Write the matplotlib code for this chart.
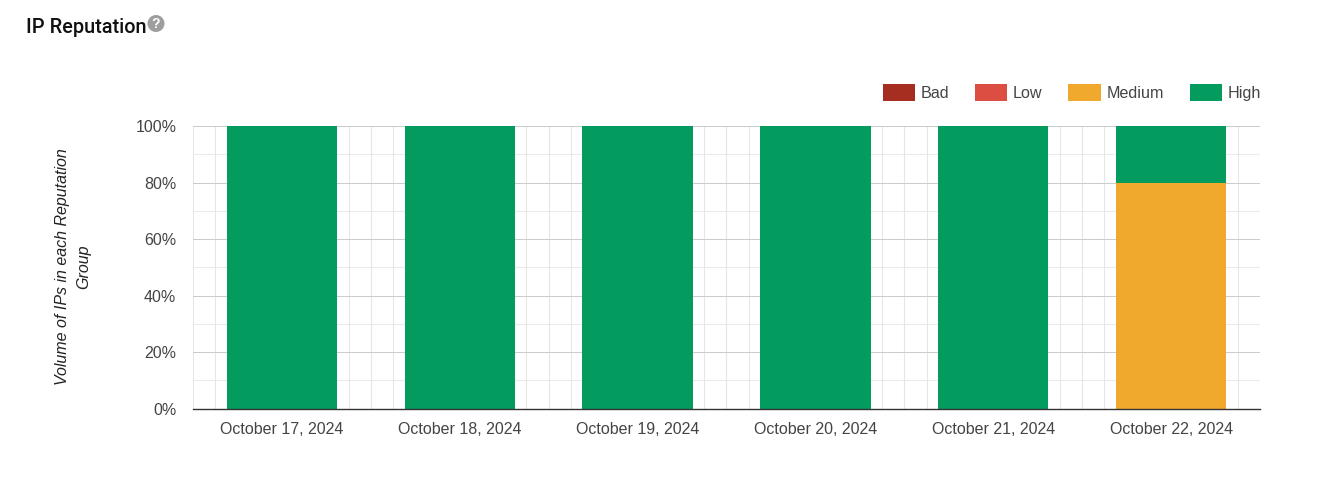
import numpy as np
import matplotlib
matplotlib.use('Agg')
import matplotlib.pyplot as plt
from matplotlib.patches import Patch, Circle

days = ['October 17, 2024', 'October 18, 2024', 'October 19, 2024',
        'October 20, 2024', 'October 21, 2024', 'October 22, 2024']
bad = [0, 0, 0, 0, 0, 0]
low = [0, 0, 0, 0, 0, 0]
medium = [0, 0, 0, 0, 0, 80]
high = [100, 100, 100, 100, 100, 20]
y_ticks = [0, 20, 40, 60, 80, 100]
y_minor = [10, 30, 50, 70, 90]
groups = ['Bad', 'Low', 'Medium', 'High']
group_colors = ['#a52e20', '#dc4e41', '#f0a92d', '#039c5e']

W, H = 1321, 496
plt.rcParams['font.family'] = ['Liberation Sans', 'DejaVu Sans']
fig = plt.figure(figsize=(W / 100, H / 100), dpi=100)
ax = fig.add_axes([193 / W, 1 - 408.6 / H, 1067 / W, 282.6 / H])

x = np.arange(len(days))
bottom = np.zeros(len(days))
for vals, col in zip([bad, low, medium, high], group_colors):
    ax.bar(x, vals, width=0.62, bottom=bottom, color=col, zorder=3, linewidth=0)
    bottom += np.array(vals)

ax.set_xlim(-0.5, 5.5)
ax.set_ylim(0, 100)
ax.set_yticks(y_ticks)
ax.set_yticklabels([f'{v}%' for v in y_ticks])
ax.set_xticks(x)
ax.set_xticklabels(days)
ax.tick_params(axis='both', length=0, labelsize=11.5, labelcolor='#444444')
ax.tick_params(axis='x', pad=10)
ax.tick_params(axis='y', pad=12)

# grid, google charts style
ax.set_axisbelow(True)
ax.grid(axis='y', color='#cccccc', linewidth=0.75, zorder=1)
for v in y_minor:
    ax.axhline(v, color='#ebebeb', linewidth=0.75, zorder=0)
for c in x:
    for off in [-0.5, -0.375, 0.375, 0.5]:
        ax.axvline(c + off, color='#e6e6e6', linewidth=0.75, zorder=0)

for s in ['top', 'left', 'right']:
    ax.spines[s].set_visible(False)
ax.spines['bottom'].set_color('#333333')
ax.spines['bottom'].set_linewidth(1)
ax.spines['bottom'].set_zorder(5)

fig.text(63 / W, 1 - 267 / H, 'Volume of IPs in each Reputation', rotation=90,
         style='italic', fontsize=11.5, color='#222222', ha='center', va='center')
fig.text(84 / W, 1 - 267 / H, 'Group', rotation=90,
         style='italic', fontsize=11.5, color='#222222', ha='center', va='center')

handles = [Patch(facecolor=c, label=g) for g, c in zip(groups, group_colors)]
fig.legend(handles=handles, ncol=4, frameon=False, loc='center right',
           bbox_to_anchor=(1261 / W, 1 - 92.5 / H), borderaxespad=0, borderpad=0,
           fontsize=11.6, labelcolor='#444444', handlelength=2.0, handleheight=1.2,
           handletextpad=0.36, columnspacing=1.6)

fig.text(26 / W, 1 - 27.5 / H, 'IP Reputation', fontsize=14.3, fontweight='medium',
         family=['Roboto', 'DejaVu Sans'], color='#111111', ha='left', va='center')

# help icon next to the title
over = fig.add_axes([0, 0, 1, 1])
over.set_xlim(0, W)
over.set_ylim(H, 0)
over.axis('off')
over.add_patch(Circle((156, 23.5), 8.5, color='#9e9e9e', linewidth=0))
over.text(156, 23.5, '?', color='white', fontsize=10, fontweight='bold', ha='center', va='center')

fig.savefig('out.png', dpi=100)
